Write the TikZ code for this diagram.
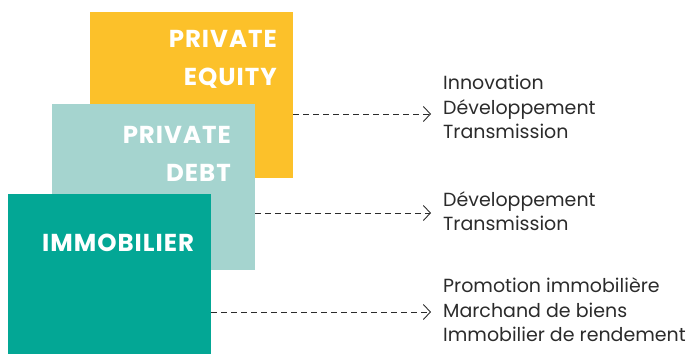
\documentclass[tikz,border=0pt]{standalone}
\usepackage{fontspec}
\setmainfont{Poppins}
\usetikzlibrary{arrows.meta}
\definecolor{peyellow}{HTML}{FCC12A}
\definecolor{pdteal}{HTML}{A5D4CF}
\definecolor{imteal}{HTML}{03A795}
\definecolor{txtgray}{HTML}{2B2B2B}
\begin{document}
\begin{tikzpicture}[x=1pt,y=-1pt]
    \tikzstyle{block} = [anchor=north west,inner sep=0,minimum width=203pt,minimum height=166pt]
    \tikzstyle{title} = [text=white,font=\fontsize{24.5}{37.5}\selectfont\bfseries\addfontfeatures{LetterSpace=4},align=right,inner sep=0]
    \tikzstyle{items} = [anchor=west,text=txtgray,font=\fontsize{19}{24.5}\selectfont,align=left,inner sep=0]
    \tikzstyle{dedge} = [draw=txtgray,line width=0.9pt,dash pattern=on 6pt off 4pt,-{Straight Barb[length=7pt,width=15pt]},shorten >=12pt]
    \useasboundingbox (0,0) rectangle (691,354);

    \node[block,fill=peyellow] (eq) at (90,12) {};
    \node[block,fill=pdteal] (debt) at (52,104) {};
    \node[block,fill=imteal,minimum height=160pt] (immo) at (8,194) {};

    \node[title,anchor=east] (teq) at (277,59.5) {PRIVATE\\EQUITY};
    \node[title,anchor=east] (tdebt) at (231,154) {PRIVATE\\DEBT};
    \node[title,anchor=west] (timmo) at (42,243) {IMMOBILIER};

    \node[items] (leq) at (443,107) {Innovation\\Développement\\Transmission};
    \node[items] (ldebt) at (443,211) {Développement\\Transmission};
    \node[items] (limmo) at (443,310) {Promotion immobilière\\Marchand de biens\\Immobilier de rendement};

    \coordinate (aeq) at (443,114);
    \coordinate (adebt) at (443,213);
    \coordinate (aimmo) at (443,312);
    \draw[dedge] (eq.east |- aeq)--(aeq);
    \draw[dedge] (debt.east |- adebt)--(adebt);
    \draw[dedge] (immo.east |- aimmo)--(aimmo);
\end{tikzpicture}
\end{document}
